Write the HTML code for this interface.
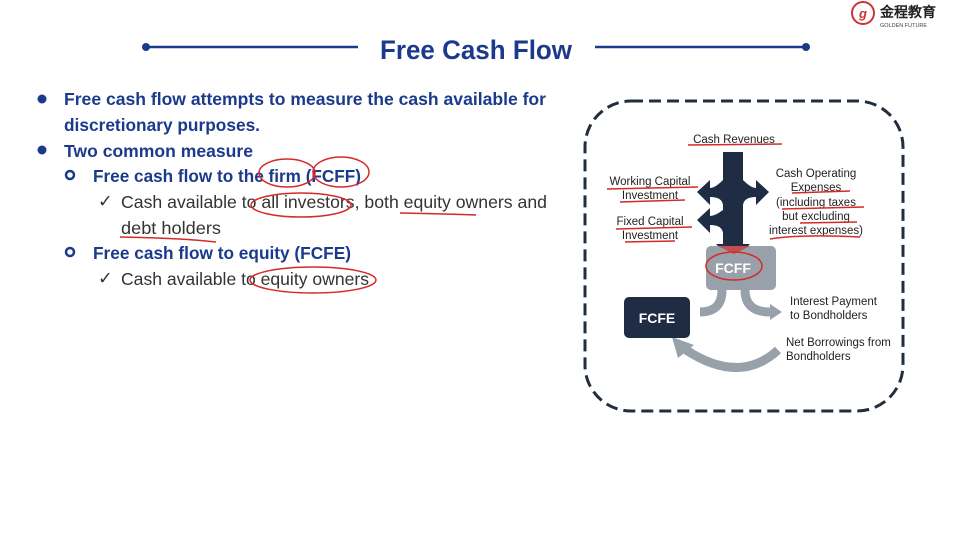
<!DOCTYPE html>
<html><head><meta charset="utf-8"><style>
html,body{margin:0;padding:0;background:#fff}
svg{display:block}
text{font-family:"Liberation Sans",sans-serif}
.b{font-weight:bold;fill:#1b3a8c;font-size:17.5px}
.r{fill:#333;font-size:17.5px}
.d{fill:#222;font-size:11.5px}
.red{fill:none;stroke:#d42a2a;stroke-width:1.5}
</style></head><body>
<svg width="953" height="533" viewBox="0 0 953 533">
<rect width="953" height="533" fill="#fff"/>
<!-- logo -->
<circle cx="863" cy="13" r="11" fill="#fff" stroke="#c33" stroke-width="2"/>
<text x="863" y="18" font-size="13" fill="#c33" text-anchor="middle" font-style="italic" font-weight="bold">g</text>
<text x="880" y="17" font-size="14" font-weight="bold" fill="#222" font-family="Noto Sans CJK SC,sans-serif">金程教育</text>
<text x="880" y="27" font-size="5.5" fill="#444">GOLDEN FUTURE</text>
<!-- title -->
<line x1="146" y1="47" x2="358" y2="47" stroke="#1b3a8c" stroke-width="2.5"/>
<circle cx="146" cy="47" r="4" fill="#1b3a8c"/>
<line x1="595" y1="47" x2="806" y2="47" stroke="#1b3a8c" stroke-width="2.5"/>
<circle cx="806" cy="47" r="4" fill="#1b3a8c"/>
<text x="476" y="59" text-anchor="middle" font-size="27" font-weight="bold" fill="#1b3a8c" textLength="192" lengthAdjust="spacingAndGlyphs">Free Cash Flow</text>
<!-- bullets -->
<circle cx="42" cy="99" r="4.5" fill="#1b3a8c"/>
<text class="b" x="64" y="105" textLength="482" lengthAdjust="spacingAndGlyphs">Free cash flow attempts to measure the cash available for</text>
<text class="b" x="64" y="131" textLength="196" lengthAdjust="spacingAndGlyphs">discretionary purposes.</text>
<circle cx="42" cy="150" r="4.5" fill="#1b3a8c"/>
<text class="b" x="64" y="157" textLength="189" lengthAdjust="spacingAndGlyphs">Two common measure</text>
<circle cx="70" cy="175" r="4" fill="none" stroke="#1b3a8c" stroke-width="2.5"/>
<text class="b" x="93" y="182" textLength="268" lengthAdjust="spacingAndGlyphs">Free cash flow to the firm (FCFF)</text>
<text class="r" x="98" y="207">✓</text>
<text class="r" x="121" y="208" textLength="426" lengthAdjust="spacingAndGlyphs">Cash available to all investors, both equity owners and</text>
<text class="r" x="121" y="234" textLength="100" lengthAdjust="spacingAndGlyphs">debt holders</text>
<circle cx="70" cy="252" r="4" fill="none" stroke="#1b3a8c" stroke-width="2.5"/>
<text class="b" x="93" y="259" textLength="258" lengthAdjust="spacingAndGlyphs">Free cash flow to equity (FCFE)</text>
<text class="r" x="98" y="284">✓</text>
<text class="r" x="121" y="285" textLength="248" lengthAdjust="spacingAndGlyphs">Cash available to equity owners</text>
<!-- annotations left -->
<ellipse cx="287" cy="173" rx="28" ry="14" class="red"/>
<ellipse cx="341" cy="172" rx="28" ry="15" class="red"/>
<ellipse cx="301" cy="205" rx="50" ry="12" class="red"/>
<path d="M400 213 Q450 214 476 215" class="red"/>
<path d="M120 237 Q180 238 216 242" class="red"/>
<ellipse cx="313" cy="280" rx="63" ry="13" class="red"/>
<!-- dashed box -->
<rect x="585" y="101" width="318" height="310" rx="46" fill="none" stroke="#222d3d" stroke-width="3" stroke-dasharray="12,6"/>
<!-- dark arrows -->
<g fill="#1f2d44">
<rect x="723" y="152" width="20" height="92"/>
<polygon points="716,244 750,244 733,262"/>
<path d="M723 180 Q715 188 710 188 L710 180 L697 192 L710 205 L710 197 Q722 197 723 205Z"/>
<path d="M743 180 Q751 188 756 188 L756 180 L769 192 L756 205 L756 197 Q744 197 743 205Z"/>
<path d="M723 210 Q715 216 710 216 L710 208 L697 220 L710 233 L710 225 Q722 225 723 233Z"/>
</g>
<!-- FCFF -->
<rect x="706" y="246" width="70" height="44" rx="5" fill="#98a0aa"/>
<text x="733" y="273" text-anchor="middle" font-size="14" font-weight="bold" fill="#fff">FCFF</text>
<ellipse cx="734" cy="266" rx="28" ry="14" class="red" stroke-width="2"/>
<polygon points="718,246 750,246 734,254" fill="#d42a2a" opacity=".7"/>
<!-- gray arrows -->
<g fill="none" stroke="#98a0aa" stroke-width="9">
<path d="M722 290 Q722 312 700 312"/>
<path d="M745 290 Q745 312 770 312"/>
<path d="M778 350 Q740 385 686 350"/>
</g>
<g fill="#98a0aa">
<polygon points="690,304 690,320 682,312"/>
<polygon points="770,304 770,320 782,312"/>
<polygon points="672,337 694,345 678,358"/>
</g>
<!-- FCFE -->
<rect x="624" y="297" width="66" height="41" rx="5" fill="#1f2d44"/>
<text x="657" y="323" text-anchor="middle" font-size="14" font-weight="bold" fill="#fff">FCFE</text>
<!-- labels -->
<text class="d" x="734" y="143" text-anchor="middle">Cash Revenues</text>
<text class="d" x="650" y="185" text-anchor="middle">Working Capital</text>
<text class="d" x="650" y="199" text-anchor="middle">Investment</text>
<text class="d" x="650" y="225" text-anchor="middle">Fixed Capital</text>
<text class="d" x="650" y="239" text-anchor="middle">Investment</text>
<text class="d" x="816" y="177" text-anchor="middle">Cash Operating</text>
<text class="d" x="816" y="191" text-anchor="middle">Expenses</text>
<text class="d" x="816" y="206" text-anchor="middle">(including taxes</text>
<text class="d" x="816" y="220" text-anchor="middle">but excluding</text>
<text class="d" x="816" y="234" text-anchor="middle">interest expenses)</text>
<text class="d" x="790" y="305">Interest Payment</text>
<text class="d" x="790" y="319">to Bondholders</text>
<text class="d" x="786" y="346">Net Borrowings from</text>
<text class="d" x="786" y="360">Bondholders</text>
<!-- red underlines diagram -->
<path d="M688 145 L782 144" class="red"/>
<path d="M607 189 L698 187" class="red"/>
<path d="M620 202 L685 200" class="red"/>
<path d="M616 229 L692 227" class="red"/>
<path d="M625 242 L675 241" class="red"/>
<path d="M792 193 L850 191" class="red"/>
<path d="M782 209 L864 207" class="red"/>
<path d="M800 223 L857 222" class="red"/>
<path d="M770 239 Q800 234 860 237" class="red"/>
</svg>
</body></html>
